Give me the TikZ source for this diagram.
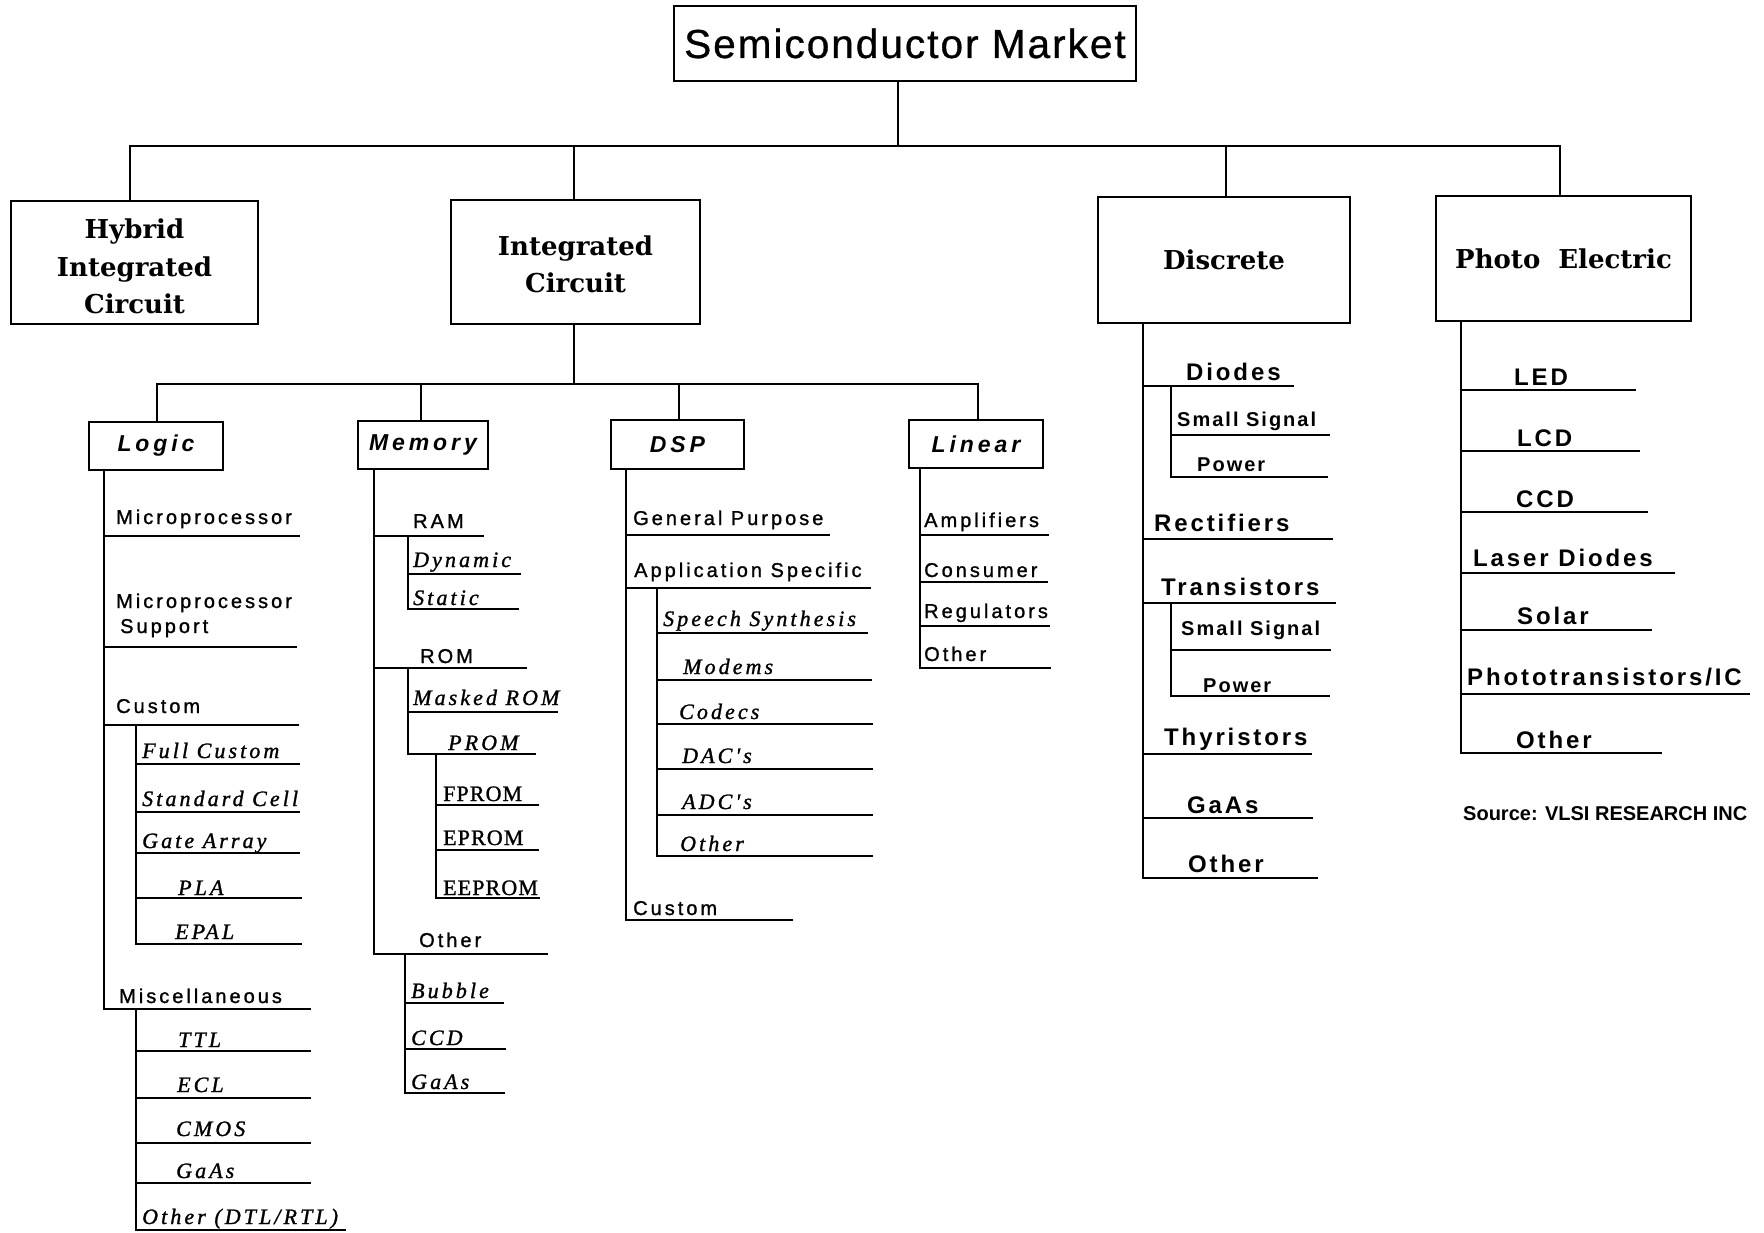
\documentclass[tikz,border=0pt]{standalone}
\usepackage{fontspec}
\newfontfamily\titlefont[LetterSpace=5,FakeBold=0.8]{Liberation Sans}
\newfontfamily\levelfont{DejaVu Serif}
\newfontfamily\catfont[LetterSpace=17]{Liberation Sans}
\newfontfamily\itemsans[LetterSpace=15,FakeBold=1.2]{Liberation Sans}
\newfontfamily\itemserif[LetterSpace=14,FakeBold=1.2]{Liberation Serif}
\newfontfamily\itemupserif[LetterSpace=5,FakeBold=1.2]{Liberation Serif}
\newfontfamily\discfont[LetterSpace=12]{Liberation Sans}
\newfontfamily\discsmall[LetterSpace=10]{Liberation Sans}
\newfontfamily\plainsans{Liberation Sans}
\newcommand\fntTitle{\titlefont\fontsize{40.5}{48}\selectfont}
\newcommand\fntLvl{\levelfont\bfseries\fontsize{26}{37.5}\selectfont}
\newcommand\fntCat{\catfont\bfseries\itshape\fontsize{23}{27}\selectfont}
\newcommand\fntA{\itemsans\fontsize{20}{24}\selectfont}
\newcommand\fntC{\itemserif\itshape\fontsize{22}{26}\selectfont}
\newcommand\fntD{\itemupserif\fontsize{22}{26}\selectfont}
\newcommand\fntB{\discfont\bfseries\fontsize{24}{28}\selectfont}
\newcommand\fntBs{\discsmall\bfseries\fontsize{20}{24}\selectfont}
\newcommand\fntSrc{\plainsans\bfseries\fontsize{20}{24}\selectfont}
% name, trunk x, line y, right x, text x, baseline y, font, text
\newcommand\myleaf[8]{%
  \coordinate (#1-l) at (#2,#3);
  \coordinate (#1-r) at (#4,#3);
  \node[leaftext,font=#7] (#1) at (#5,#6) {#8};
  \draw[ln] (#1-l) -- (#1-r);
}
\begin{document}
\begin{tikzpicture}[x=1pt,y=-1pt,
  ln/.style={line width=2.6pt,line cap=rect},
  bx/.style={draw,line width=2.8pt,inner sep=0pt,align=center},
  lvltext/.style={font=\fntLvl,align=center,inner sep=0pt},
  leaftext/.style={anchor=base west,inner sep=0pt}]
\useasboundingbox (0,0) rectangle (1764,1233);

% ---------- boxes ----------
\node[bx,minimum width=462pt,minimum height=75pt,font=\fntTitle] (top) at (905,43.5) {Semiconductor Market};
\node[bx,minimum width=247pt,minimum height=123pt] (hybrid) at (134.5,262.5) {};
\node[lvltext] (hybridt) at ([yshift=-4pt]hybrid.center) {Hybrid\\Integrated\\Circuit};
\node[bx,minimum width=249pt,minimum height=124pt] (ic) at (575.5,262) {};
\node[lvltext] (ict) at ([yshift=-2.5pt]ic.center) {Integrated\\Circuit};
\node[bx,minimum width=252pt,minimum height=126pt,font=\fntLvl] (discrete) at (1224,260) {Discrete};
\node[bx,minimum width=255pt,minimum height=125pt,font=\fntLvl] (photo) at (1563.5,258.5) {Photo\hspace{18pt}Electric};

\node[bx,minimum width=134pt,minimum height=48pt,font=\fntCat] (logic) at (156,446) {Logic};
\node[bx,minimum width=130pt,minimum height=48pt,font=\fntCat] (memory) at (423,445) {Memory};
\node[bx,minimum width=133pt,minimum height=49pt,font=\fntCat] (dsp) at (677.5,444.5) {DSP};
\node[bx,minimum width=134pt,minimum height=48pt,font=\fntCat] (linear) at (976,444) {Linear};

% ---------- top connectors ----------
\coordinate (j0) at (898,146);
\coordinate (jh) at (130,146);
\coordinate (ji) at (574,146);
\coordinate (jd) at (1226,146);
\coordinate (jp) at (1560,146);
\draw[ln] (top.south -| j0) -- (j0);
\draw[ln] (jh) -- (jp);
\draw[ln] (jh) -- (jh |- hybrid.north);
\draw[ln] (ji) -- (ji |- ic.north);
\draw[ln] (jd) -- (jd |- discrete.north);
\draw[ln] (jp) -- (jp |- photo.north);

\coordinate (k0) at (574,384);
\coordinate (kl) at (157,384);
\coordinate (km) at (421,384);
\coordinate (ks) at (679,384);
\coordinate (kn) at (978,384);
\draw[ln] (ic.south -| k0) -- (k0);
\draw[ln] (kl) -- (kn);
\draw[ln] (kl) -- (kl |- logic.north);
\draw[ln] (km) -- (km |- memory.north);
\draw[ln] (ks) -- (ks |- dsp.north);
\draw[ln] (kn) -- (kn |- linear.north);

% ---------- Logic ----------
\myleaf{lmp}{104}{536}{299}{116}{524}{\fntA}{Microprocessor}
\myleaf{lmps}{104}{647}{296}{116}{608}{\fntA}{Microprocessor}
\node[leaftext,font=\fntA] (lmps2) at (120,633) {Support};
\myleaf{lcus}{104}{725}{298}{116}{713}{\fntA}{Custom}
\myleaf{lfc}{136}{764}{299}{142}{758}{\fntC}{Full Custom}
\myleaf{lsc}{136}{812}{299}{142}{806}{\fntC}{Standard Cell}
\myleaf{lga}{136}{853}{299}{142}{848}{\fntC}{Gate Array}
\myleaf{lpla}{136}{898}{301}{178}{895}{\fntC}{PLA}
\myleaf{lepal}{136}{944}{301}{175}{939}{\fntC}{EPAL}
\myleaf{lmisc}{104}{1009}{310}{119}{1003}{\fntA}{Miscellaneous}
\myleaf{lttl}{136}{1051}{310}{178}{1047}{\fntC}{TTL}
\myleaf{lecl}{136}{1098}{310}{177}{1092}{\fntC}{ECL}
\myleaf{lcmos}{136}{1143}{310}{176}{1136}{\fntC}{CMOS}
\myleaf{lgaas}{136}{1183}{310}{176}{1178}{\fntC}{GaAs}
\myleaf{loth}{136}{1230}{345}{142}{1224}{\fntC}{Other (DTL/RTL)}
\draw[ln] (logic.south -| lmp-l) -- (lmisc-l);
\draw[ln] (lcus-l -| lfc-l) -- (lepal-l);
\draw[ln] (lmisc-l -| lttl-l) -- (loth-l);

% ---------- Memory ----------
\myleaf{mram}{374}{536}{483}{413}{528}{\fntA}{RAM}
\myleaf{mdyn}{408}{574}{520}{413}{567}{\fntC}{Dynamic}
\myleaf{msta}{408}{609}{518}{413}{605}{\fntC}{Static}
\myleaf{mrom}{374}{668}{526}{420}{663}{\fntA}{ROM}
\myleaf{mmask}{408}{712}{557}{413}{705}{\fntC}{Masked ROM}
\myleaf{mprom}{408}{754}{535}{448}{750}{\fntC}{PROM}
\myleaf{mfprom}{436}{805}{538}{443}{801}{\fntD}{FPROM}
\myleaf{meprom}{436}{850}{538}{443}{845}{\fntD}{EPROM}
\myleaf{meeprom}{436}{898}{539}{443}{895}{\fntD}{EEPROM}
\myleaf{moth}{374}{954}{547}{419}{947}{\fntA}{Other}
\myleaf{mbub}{405}{1003}{503}{411}{998}{\fntC}{Bubble}
\myleaf{mccd}{405}{1049}{505}{411}{1045}{\fntC}{CCD}
\myleaf{mgaas}{405}{1093}{504}{411}{1089}{\fntC}{GaAs}
\draw[ln] (memory.south -| mram-l) -- (moth-l);
\draw[ln] (mram-l -| mdyn-l) -- (msta-l);
\draw[ln] (mrom-l -| mmask-l) -- (mprom-l);
\draw[ln] (mprom-l -| mfprom-l) -- (meeprom-l);
\draw[ln] (moth-l -| mbub-l) -- (mgaas-l);

% ---------- DSP ----------
\myleaf{dgp}{626}{535}{829}{633}{525}{\fntA}{General Purpose}
\myleaf{das}{626}{588}{870}{634}{577}{\fntA}{Application Specific}
\myleaf{dss}{657}{633}{867}{663}{626}{\fntC}{Speech Synthesis}
\myleaf{dmod}{657}{680}{871}{683}{674}{\fntC}{Modems}
\myleaf{dcod}{657}{724}{872}{679}{719}{\fntC}{Codecs}
\myleaf{ddac}{657}{769}{872}{682}{763}{\fntC}{DAC's}
\myleaf{dadc}{657}{815}{872}{682}{809}{\fntC}{ADC's}
\myleaf{doth}{657}{856}{872}{680}{851}{\fntC}{Other}
\myleaf{dcus}{626}{920}{792}{633}{915}{\fntA}{Custom}
\draw[ln] (dsp.south -| dgp-l) -- (dcus-l);
\draw[ln] (das-l -| dss-l) -- (doth-l);

% ---------- Linear ----------
\myleaf{nam}{920}{535}{1048}{924}{527}{\fntA}{Amplifiers}
\myleaf{nco}{920}{582}{1047}{924}{577}{\fntA}{Consumer}
\myleaf{nre}{920}{626}{1049}{924}{618}{\fntA}{Regulators}
\myleaf{not}{920}{668}{1050}{924}{661}{\fntA}{Other}
\draw[ln] (linear.south -| nam-l) -- (not-l);

% ---------- Discrete ----------
\myleaf{xdio}{1143}{386}{1293}{1186}{380}{\fntB}{Diodes}
\myleaf{xdss}{1171}{435}{1329}{1177}{426}{\fntBs}{Small Signal}
\myleaf{xdpw}{1171}{477}{1327}{1197}{471}{\fntBs}{Power}
\myleaf{xrec}{1143}{539}{1332}{1154}{531}{\fntB}{Rectifiers}
\myleaf{xtra}{1143}{603}{1335}{1161}{595}{\fntB}{Transistors}
\myleaf{xtss}{1171}{650}{1330}{1181}{635}{\fntBs}{Small Signal}
\myleaf{xtpw}{1171}{696}{1329}{1203}{692}{\fntBs}{Power}
\myleaf{xthy}{1143}{754}{1311}{1164}{745}{\fntB}{Thyristors}
\myleaf{xgaa}{1143}{818}{1312}{1187}{813}{\fntB}{GaAs}
\myleaf{xoth}{1143}{878}{1317}{1188}{872}{\fntB}{Other}
\draw[ln] (discrete.south -| xdio-l) -- (xoth-l);
\draw[ln] (xdio-l -| xdss-l) -- (xdpw-l);
\draw[ln] (xtra-l -| xtss-l) -- (xtpw-l);

% ---------- Photo Electric ----------
\myleaf{pled}{1461}{390}{1635}{1514}{385}{\fntB}{LED}
\myleaf{plcd}{1461}{451}{1639}{1517}{446}{\fntB}{LCD}
\myleaf{pccd}{1461}{512}{1647}{1516}{507}{\fntB}{CCD}
\myleaf{plas}{1461}{573}{1674}{1473}{566}{\fntB}{Laser Diodes}
\myleaf{psol}{1461}{630}{1651}{1517}{624}{\fntB}{Solar}
\myleaf{ppho}{1461}{694}{1749}{1467}{685}{\fntB}{Phototransistors/IC}
\myleaf{poth}{1461}{753}{1661}{1516}{748}{\fntB}{Other}
\draw[ln] (photo.south -| pled-l) -- (poth-l);

\node[leaftext,font=\fntSrc] (source) at (1463,820) {Source: VLSI RESEARCH INC};
\end{tikzpicture}
\end{document}
